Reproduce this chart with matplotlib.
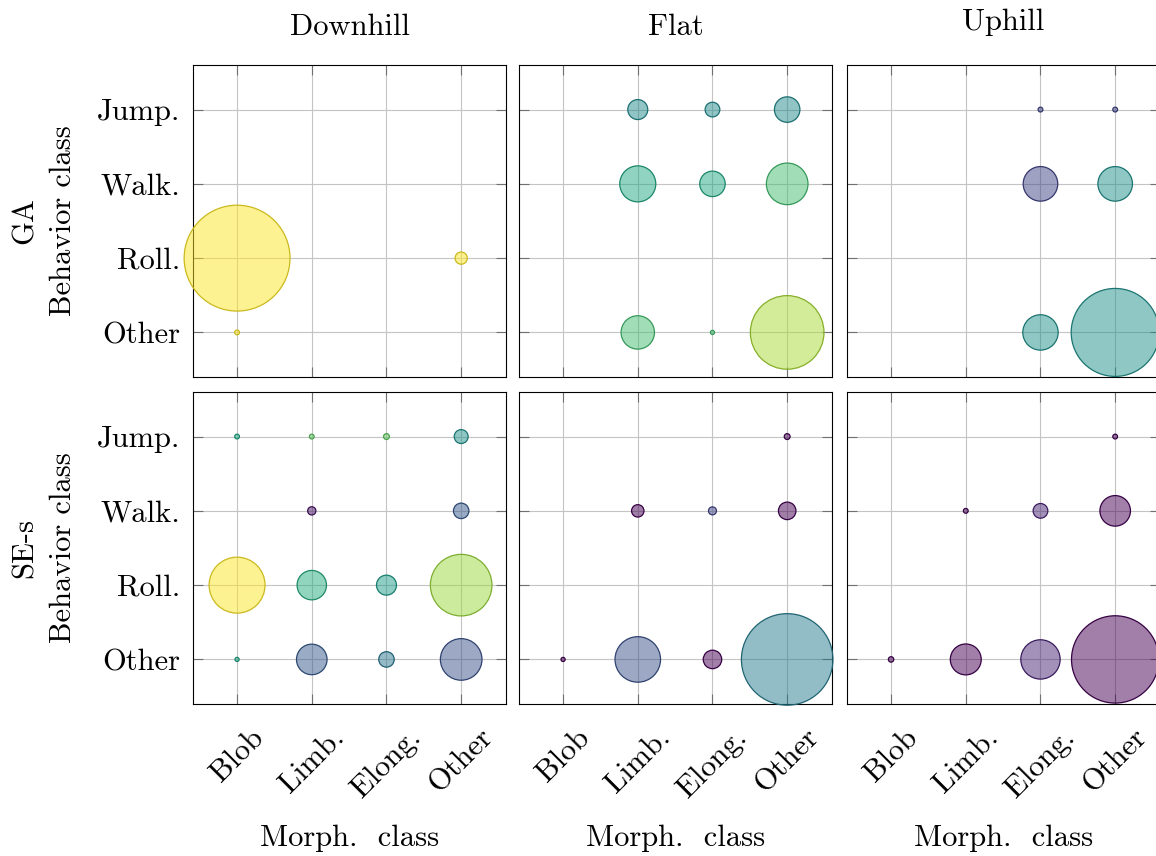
import numpy as np
import matplotlib
matplotlib.use("Agg")
import matplotlib.pyplot as plt

plt.rcParams['font.family'] = ['cmr10', 'DejaVu Serif']
plt.rcParams['mathtext.fontset'] = 'cm'
plt.rcParams['axes.formatter.use_mathtext'] = True
plt.rcParams['font.size'] = 22

# categories
morph_classes = ["Blob", "Limb.", "Elong.", "Other"]
behavior_classes = ["Other", "Roll.", "Walk.", "Jump."]   # bottom to top
terrains = ["Downhill", "Flat", "Uphill"]
methods = ["GA", "SE-s"]

# share of population (%) per cell, rows top to bottom: Jump., Walk., Roll., Other
# columns: Blob, Limb., Elong., Other
ga_downhill_share = [[0, 0, 0, 0],
                     [0, 0, 0, 0],
                     [98.5, 0, 0, 1.3],
                     [0.2, 0, 0, 0]]
ga_flat_share = [[0, 3.5, 1.9, 5.7],
                 [0, 11.4, 5.7, 15.2],
                 [0, 0, 0, 0],
                 [0, 9.8, 0.15, 47.6]]
ga_uphill_share = [[0, 0, 0.2, 0.2],
                   [0, 0, 10.5, 10.5],
                   [0, 0, 0, 0],
                   [0, 0, 11.0, 68.0]]
se_downhill_share = [[0.2, 0.2, 0.3, 1.7],
                     [0, 0.6, 0, 2.1],
                     [27.5, 7.6, 3.5, 33.3],
                     [0.15, 8.2, 2.1, 15.2]]
se_flat_share = [[0, 0, 0, 0.3],
                 [0, 1.35, 0.56, 2.7],
                 [0, 0, 0, 0],
                 [0.15, 18.2, 3.0, 73.6]]
se_uphill_share = [[0, 0, 0, 0.2],
                   [0, 0.2, 1.9, 8.2],
                   [0, 0, 0, 0],
                   [0.26, 8.4, 13.6, 67.0]]

# normalised score per cell (colour), same layout
ga_downhill_score = [[0, 0, 0, 0],
                     [0, 0, 0, 0],
                     [1.0, 0, 0, 1.0],
                     [1.0, 0, 0, 0]]
ga_flat_score = [[0, 0.48, 0.48, 0.48],
                 [0, 0.6, 0.6, 0.7],
                 [0, 0, 0, 0],
                 [0, 0.7, 0.7, 0.87]]
ga_uphill_score = [[0, 0, 0.2, 0.2],
                   [0, 0, 0.2, 0.5],
                   [0, 0, 0, 0],
                   [0, 0, 0.5, 0.5]]
se_downhill_score = [[0.6, 0.75, 0.75, 0.5],
                     [0, 0.05, 0, 0.28],
                     [1.0, 0.62, 0.55, 0.85],
                     [0.6, 0.28, 0.4, 0.25]]
se_flat_score = [[0, 0, 0, 0.0],
                 [0, 0.0, 0.2, 0.0],
                 [0, 0, 0, 0],
                 [0.0, 0.25, 0.0, 0.42]]
se_uphill_score = [[0, 0, 0, 0.0],
                   [0, 0.0, 0.1, 0.0],
                   [0, 0, 0, 0],
                   [0.0, 0.0, 0.1, 0.0]]

shares = [[ga_downhill_share, ga_flat_share, ga_uphill_share],
          [se_downhill_share, se_flat_share, se_uphill_share]]
scores = [[ga_downhill_score, ga_flat_score, ga_uphill_score],
          [se_downhill_score, se_flat_score, se_uphill_score]]

SIZE_PER_PCT = 59.0   # marker area (pt^2) per percent

W, H = 1156, 856
fig = plt.figure(figsize=(W / 100, H / 100), dpi=100)

col_left = [193, 519, 847]
row_top = [65, 392]
ax_w, ax_h = 313, 312

cmap = matplotlib.colormaps['viridis']

for r in range(2):
    for c in range(3):
        ax = fig.add_axes([col_left[c] / W, 1 - (row_top[r] + ax_h) / H, ax_w / W, ax_h / H])
        share = np.array(shares[r][c])[::-1]   # flip so row 0 = Other
        score = np.array(scores[r][c])[::-1]
        yy, xx = np.nonzero(share)
        vals = share[yy, xx]
        cols = cmap(score[yy, xx])
        face = cols.copy()
        face[:, 3] = 0.5
        edge = cols.copy()
        edge[:, :3] *= 0.8   # slightly darker outline
        ax.scatter(xx, yy, s=vals * SIZE_PER_PCT, facecolors=face, edgecolors=edge,
                   linewidths=0.9, clip_on=False, zorder=3)

        ax.set_xlim(-0.59, 3.6)
        ax.set_ylim(-0.6, 3.6)
        ax.set_xticks(range(4))
        ax.set_yticks(range(4))
        ax.grid(True, color='#c4c4c4', linewidth=0.8, zorder=0)
        ax.set_axisbelow(True)
        ax.tick_params(direction='in', length=7.5, width=0.8, color='#707070',
                       top=True, right=True, labelsize=22)
        for sp in ax.spines.values():
            sp.set_linewidth(0.8)
            sp.set_color('black')

        if c == 0:
            ax.set_yticklabels(behavior_classes)
            ax.tick_params(axis='y', pad=9)
        else:
            ax.set_yticklabels([])
        if r == 1:
            ax.set_xticklabels(morph_classes, rotation=45, ha='center', va='top')
            ax.tick_params(axis='x', pad=14)
        else:
            ax.set_xticklabels([])

# column titles and x labels
title_y = [27, 27, 22]
for c in range(3):
    xc = (col_left[c] + ax_w / 2) / W
    fig.text(xc, 1 - title_y[c] / H, terrains[c], ha='center', va='center', fontsize=22)
    fig.text(xc, 1 - 838 / H, "Morph.  class", ha='center', va='center', fontsize=22)

# row labels
for r in range(2):
    yc = 1 - (row_top[r] + ax_h / 2) / H
    fig.text(25 / W, yc, methods[r], rotation=90, ha='center', va='center', fontsize=22)
    fig.text(63 / W, yc, "Behavior class", rotation=90, ha='center', va='center', fontsize=22)

fig.savefig("out.png", dpi=100)
